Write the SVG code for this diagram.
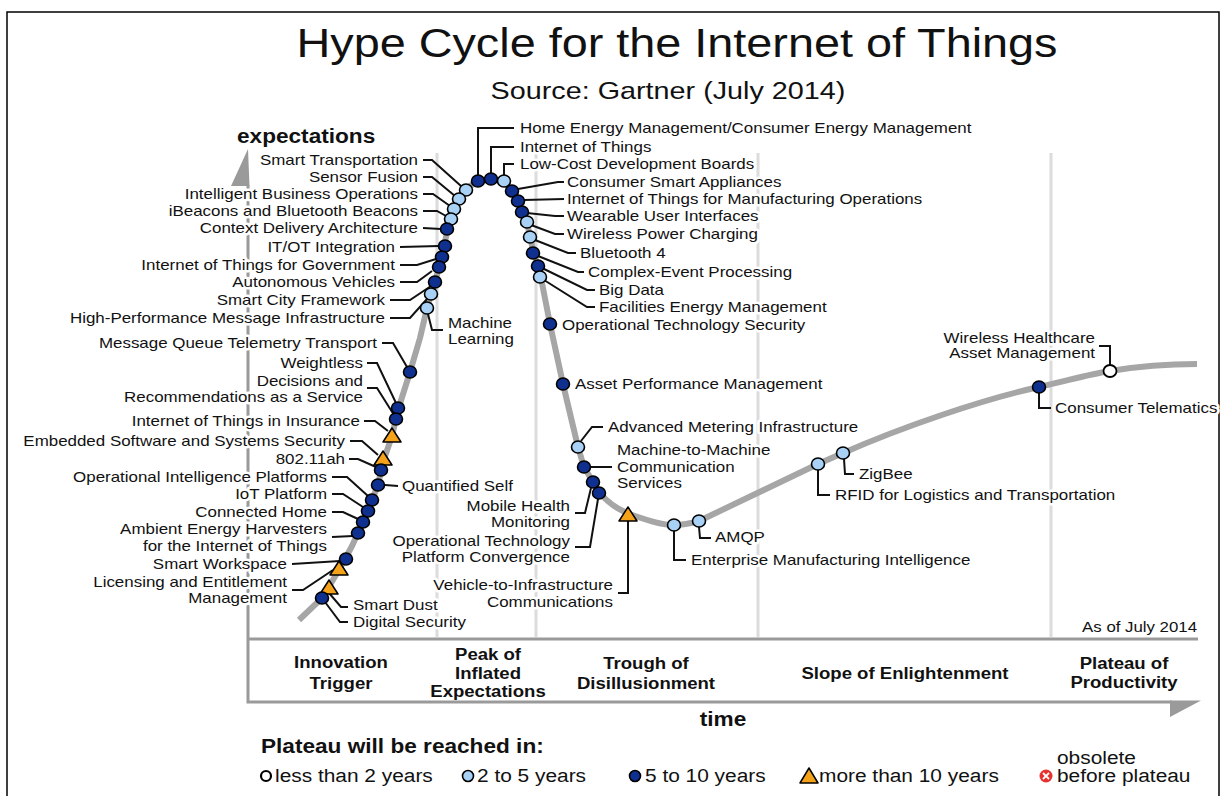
<svg xmlns="http://www.w3.org/2000/svg" xmlns:xlink="http://www.w3.org/1999/xlink" width="1224" height="796" viewBox="0 0 1224 796">
<style>
text{font-family:"Liberation Sans",Arial,Helvetica,sans-serif;fill:#111}
.lb{font-size:14.6px;stroke:#fff;stroke-width:5px;paint-order:stroke;stroke-linejoin:round}
.e{text-anchor:end}
.m{text-anchor:middle}
.b{font-weight:bold}
.ph{font-size:16px;font-weight:bold;text-anchor:middle}
.lg{font-size:18px}
.ld{fill:none;stroke:#111;stroke-width:2}
.div{stroke:#dcdcdc;stroke-width:3}
.ax{stroke:#9a9a9a;stroke-width:3;fill:none}
</style>
<defs>
<ellipse id="dk" rx="6.5" ry="6" fill="#10308f" stroke="#000" stroke-width="1.6"/>
<ellipse id="lt" rx="6.5" ry="6" fill="#a9d1f5" stroke="#000" stroke-width="1.6"/>
<ellipse id="wt" rx="6.5" ry="6" fill="#fff" stroke="#000" stroke-width="1.8"/>
<path id="tr" d="M0,-8 L9,6 L-9,6 Z" fill="#f5a21b" stroke="#000" stroke-width="1.5" stroke-linejoin="round"/>
</defs>
<rect x="0" y="0" width="1224" height="796" fill="#fff"/>
<rect x="7" y="12" width="1212" height="800" fill="none" stroke="#000" stroke-width="1.5"/>

<g id="titles">
<text class="m" font-size="40" transform="translate(677,57) scale(1.17,1)">Hype Cycle for the Internet of Things</text>
<text class="m" font-size="24.8" transform="translate(668,99) scale(1.16,1)">Source: Gartner (July 2014)</text>
</g>

<g id="frame">
<line class="div" x1="437" y1="153" x2="437" y2="637"/>
<line class="div" x1="536" y1="153" x2="536" y2="637"/>
<line class="div" x1="758" y1="153" x2="758" y2="637"/>
<line class="div" x1="1051" y1="153" x2="1051" y2="637"/>
<polyline class="ax" points="248,185 248,702 1172,702"/>
<line class="ax" x1="248" y1="639" x2="1198" y2="639"/>
<polygon points="248,149 249.5,186 231,186" fill="#9a9a9a"/>
<polygon points="1170,700.5 1201,700.5 1170,717" fill="#9a9a9a"/>
<text class="b" font-size="19.5" transform="translate(237,143) scale(1.16,1)">expectations</text>
<text class="b m" font-size="19.5" transform="translate(723,726) scale(1.16,1)">time</text>
<text class="e" font-size="14.5" transform="translate(1197,632) scale(1.16,1)">As of July 2014</text>
<text class="ph" transform="translate(341,668) scale(1.16,1)"><tspan x="0">Innovation</tspan><tspan x="0" dy="21">Trigger</tspan></text>
<text class="ph" transform="translate(488,660) scale(1.16,1)"><tspan x="0">Peak of</tspan><tspan x="0" dy="19">Inflated</tspan><tspan x="0" dy="18">Expectations</tspan></text>
<text class="ph" transform="translate(646,669) scale(1.16,1)"><tspan x="0">Trough of</tspan><tspan x="0" dy="20">Disillusionment</tspan></text>
<text class="ph" transform="translate(905,679) scale(1.16,1)">Slope of Enlightenment</text>
<text class="ph" transform="translate(1124,669) scale(1.16,1)"><tspan x="0">Plateau of</tspan><tspan x="0" dy="19.5">Productivity</tspan></text>
</g>

<path id="curve" d="M299,620 L322,598 L339,570 L352,546 L363,522 L372,500 L378,485 L383,462 L392,436 L398,410 L410,372 L420,338 L427,308 L435,282 L442,257 L447,232 L452,214 L459,199 L466,190 C472,183 482,179 491,179 C499,179 507,184 512,191 L518,201 L522,212 L527,222 L530,237 L534,254 L538,266 L541,278 L550,324 L563,384 L578,447 L584,467 L593,482 L600,493 C608,503 620,511 635,516 C650,521 662,525 674,525 C685,525 692,523 699,521 L818,464 L843,453 C900,428 980,400 1039,387 C1070,380 1090,374 1110,371 C1140,366 1170,364 1197,364" fill="none" stroke="#a6a6a6" stroke-width="6" stroke-linejoin="round"/>

<g id="connectors">
<polyline class="ld" points="423,160 432,160 461,186"/>
<polyline class="ld" points="423,177 432,177 455,196"/>
<polyline class="ld" points="423,194 433,194 450,206"/>
<polyline class="ld" points="423,211 437,211 446,216"/>
<polyline class="ld" points="423,228 441,229"/>
<polyline class="ld" points="400,247 439,246"/>
<polyline class="ld" points="400,265 417,265 436,259"/>
<polyline class="ld" points="400,282 417,282 432,271"/>
<polyline class="ld" points="390,300 410,300 431,286"/>
<polyline class="ld" points="390,318 410,318 427,299"/>
<polyline class="ld" points="382,343 393,343 407,367"/>
<polyline class="ld" points="367,363 377,363 396,403"/>
<polyline class="ld" points="367,388 377,388 394,415"/>
<polyline class="ld" points="364,421 375,421 388,431"/>
<polyline class="ld" points="350,441 362,441 378,455"/>
<polyline class="ld" points="349,459 358,459 376,467"/>
<polyline class="ld" points="385,485 398,486"/>
<polyline class="ld" points="332,477 347,477 368,496"/>
<polyline class="ld" points="332,494 343,494 363,507"/>
<polyline class="ld" points="332,512 343,512 358,519"/>
<polyline class="ld" points="332,537 353,536"/>
<polyline class="ld" points="292,564 340,561"/>
<polyline class="ld" points="292,590 303,590 333,570"/>
<polyline class="ld" points="329,593 341,607 348,607"/>
<polyline class="ld" points="325,602 340,622 348,622"/>
<polyline class="ld" points="478,175 478,128 514,128"/>
<polyline class="ld" points="491,173 491,147 514,147"/>
<polyline class="ld" points="504,175 504,164 514,164"/>
<polyline class="ld" points="518,189 558,182 564,182"/>
<polyline class="ld" points="524,200 564,199"/>
<polyline class="ld" points="527,213 555,216 564,216"/>
<polyline class="ld" points="531,225 555,234 564,234"/>
<polyline class="ld" points="535,240 568,253 576,253"/>
<polyline class="ld" points="538,256 578,272 584,272"/>
<polyline class="ld" points="542,268 587,290 595,290"/>
<polyline class="ld" points="544,280 587,307 595,307"/>
<polyline class="ld" points="428,314 432,330 443,330"/>
<polyline class="ld" points="581,441 592,427 603,427"/>
<polyline class="ld" points="591,467 612,467"/>
<polyline class="ld" points="591,488 585,513 575,513"/>
<polyline class="ld" points="598,499 590,547 575,547"/>
<polyline class="ld" points="628,521 628,593 618,593"/>
<polyline class="ld" points="674,531 674,560 686,560"/>
<polyline class="ld" points="699,527 700,538 711,538"/>
<polyline class="ld" points="818,470 818,495 830,495"/>
<polyline class="ld" points="844,459 845,474 854,474"/>
<polyline class="ld" points="1039,393 1039,408 1051,408"/>
<polyline class="ld" points="1110,365 1110,346 1099,346"/>
</g>

<g id="n-smart-transportation"><use href="#lt" x="466" y="190"/><text class="lb e" transform="translate(418,165) scale(1.16,1)">Smart Transportation</text></g>
<g id="n-sensor-fusion"><use href="#lt" x="459" y="199"/><text class="lb e" transform="translate(418,182) scale(1.16,1)">Sensor Fusion</text></g>
<g id="n-intelligent-business"><use href="#lt" x="454" y="209"/><text class="lb e" transform="translate(418,199) scale(1.16,1)">Intelligent Business Operations</text></g>
<g id="n-ibeacons"><use href="#lt" x="451" y="219"/><text class="lb e" transform="translate(418,216) scale(1.16,1)">iBeacons and Bluetooth Beacons</text></g>
<g id="n-context-delivery"><use href="#dk" x="447" y="229"/><text class="lb e" transform="translate(418,233) scale(1.16,1)">Context Delivery Architecture</text></g>
<g id="n-itot"><use href="#dk" x="445" y="246"/><text class="lb e" transform="translate(395,252) scale(1.16,1)">IT/OT Integration</text></g>
<g id="n-iot-government"><use href="#dk" x="442" y="257"/><text class="lb e" transform="translate(395,270) scale(1.16,1)">Internet of Things for Government</text></g>
<g id="n-autonomous"><use href="#dk" x="439" y="267"/><text class="lb e" transform="translate(395,287) scale(1.16,1)">Autonomous Vehicles</text></g>
<g id="n-smart-city"><use href="#dk" x="435" y="282"/><text class="lb e" transform="translate(385,305) scale(1.16,1)">Smart City Framework</text></g>
<g id="n-high-performance"><use href="#lt" x="431" y="294"/><text class="lb e" transform="translate(385,323) scale(1.16,1)">High-Performance Message Infrastructure</text></g>
<g id="n-machine-learning"><use href="#lt" x="427" y="308"/><text class="lb" transform="translate(448,328) scale(1.16,1)"><tspan x="0">Machine</tspan><tspan x="0" dy="16">Learning</tspan></text></g>
<g id="n-mqtt"><use href="#dk" x="410" y="372"/><text class="lb e" transform="translate(377,348) scale(1.16,1)">Message Queue Telemetry Transport</text></g>
<g id="n-weightless"><use href="#dk" x="398" y="408"/><text class="lb e" transform="translate(363,368) scale(1.16,1)">Weightless</text></g>
<g id="n-decisions"><use href="#dk" x="396" y="419"/><text class="lb e" transform="translate(363,386) scale(1.16,1)"><tspan x="0">Decisions and</tspan><tspan x="0" dy="16">Recommendations as a Service</tspan></text></g>
<g id="n-insurance"><use href="#tr" x="392" y="436"/><text class="lb e" transform="translate(360,426) scale(1.16,1)">Internet of Things in Insurance</text></g>
<g id="n-embedded"><use href="#tr" x="383" y="459"/><text class="lb e" transform="translate(345,446) scale(1.16,1)">Embedded Software and Systems Security</text></g>
<g id="n-80211ah"><use href="#dk" x="381" y="470"/><text class="lb e" transform="translate(345,464) scale(1.16,1)">802.11ah</text></g>
<g id="n-quantified-self"><use href="#dk" x="378" y="485"/><text class="lb" transform="translate(402,491) scale(1.16,1)">Quantified Self</text></g>
<g id="n-op-intelligence"><use href="#dk" x="372" y="500"/><text class="lb e" transform="translate(327,482) scale(1.16,1)">Operational Intelligence Platforms</text></g>
<g id="n-iot-platform"><use href="#dk" x="368" y="511"/><text class="lb e" transform="translate(327,499) scale(1.16,1)">IoT Platform</text></g>
<g id="n-connected-home"><use href="#dk" x="363" y="522"/><text class="lb e" transform="translate(327,517) scale(1.16,1)">Connected Home</text></g>
<g id="n-ambient"><use href="#dk" x="358" y="533"/><text class="lb e" transform="translate(327,534) scale(1.16,1)"><tspan x="0">Ambient Energy Harvesters</tspan><tspan x="0" dy="17">for the Internet of Things</tspan></text></g>
<g id="n-smart-workspace"><use href="#dk" x="346" y="559"/><text class="lb e" transform="translate(287,569) scale(1.16,1)">Smart Workspace</text></g>
<g id="n-licensing"><use href="#tr" x="339" y="569"/><text class="lb e" transform="translate(287,587) scale(1.16,1)"><tspan x="0">Licensing and Entitlement</tspan><tspan x="0" dy="16">Management</tspan></text></g>
<g id="n-smart-dust"><use href="#tr" x="329" y="588"/><text class="lb" transform="translate(353,610) scale(1.16,1)">Smart Dust</text></g>
<g id="n-digital-security"><use href="#dk" x="322" y="598"/><text class="lb" transform="translate(353,627) scale(1.16,1)">Digital Security</text></g>

<g id="n-home-energy"><use href="#dk" x="478" y="181"/><text class="lb" transform="translate(520,133) scale(1.16,1)">Home Energy Management/Consumer Energy Management</text></g>
<g id="n-iot"><use href="#dk" x="491" y="179"/><text class="lb" transform="translate(520,152) scale(1.16,1)">Internet of Things</text></g>
<g id="n-low-cost"><use href="#lt" x="504" y="181"/><text class="lb" transform="translate(520,169) scale(1.16,1)">Low-Cost Development Boards</text></g>
<g id="n-consumer-smart"><use href="#dk" x="512" y="191"/><text class="lb" transform="translate(567,187) scale(1.16,1)">Consumer Smart Appliances</text></g>
<g id="n-iot-manufacturing"><use href="#dk" x="518" y="201"/><text class="lb" transform="translate(567,204) scale(1.16,1)">Internet of Things for Manufacturing Operations</text></g>
<g id="n-wearable"><use href="#dk" x="522" y="212"/><text class="lb" transform="translate(567,221) scale(1.16,1)">Wearable User Interfaces</text></g>
<g id="n-wireless-power"><use href="#lt" x="527" y="222"/><text class="lb" transform="translate(567,239) scale(1.16,1)">Wireless Power Charging</text></g>
<g id="n-bluetooth"><use href="#lt" x="530" y="237"/><text class="lb" transform="translate(580,258) scale(1.16,1)">Bluetooth 4</text></g>
<g id="n-complex-event"><use href="#dk" x="533" y="253"/><text class="lb" transform="translate(588,277) scale(1.16,1)">Complex-Event Processing</text></g>
<g id="n-big-data"><use href="#dk" x="538" y="266"/><text class="lb" transform="translate(599,295) scale(1.16,1)">Big Data</text></g>
<g id="n-facilities"><use href="#lt" x="540" y="277"/><text class="lb" transform="translate(599,312) scale(1.16,1)">Facilities Energy Management</text></g>
<g id="n-ot-security"><use href="#dk" x="550" y="324"/><text class="lb" transform="translate(562,330) scale(1.16,1)">Operational Technology Security</text></g>
<g id="n-asset-performance"><use href="#dk" x="563" y="384"/><text class="lb" transform="translate(575,389) scale(1.16,1)">Asset Performance Management</text></g>
<g id="n-advanced-metering"><use href="#lt" x="578" y="447"/><text class="lb" transform="translate(608,432) scale(1.16,1)">Advanced Metering Infrastructure</text></g>
<g id="n-m2m"><use href="#dk" x="584" y="467"/><text class="lb" transform="translate(617,455) scale(1.16,1)"><tspan x="0">Machine-to-Machine</tspan><tspan x="0" dy="17">Communication</tspan><tspan x="0" dy="16">Services</tspan></text></g>
<g id="n-mobile-health"><use href="#dk" x="593" y="482"/><text class="lb e" transform="translate(570,511) scale(1.16,1)"><tspan x="0">Mobile Health</tspan><tspan x="0" dy="16">Monitoring</tspan></text></g>
<g id="n-ot-platform"><use href="#dk" x="599" y="493"/><text class="lb e" transform="translate(570,546) scale(1.16,1)"><tspan x="0">Operational Technology</tspan><tspan x="0" dy="16">Platform Convergence</tspan></text></g>
<g id="n-v2i"><use href="#tr" x="628" y="515"/><text class="lb e" transform="translate(613,590) scale(1.16,1)"><tspan x="0">Vehicle-to-Infrastructure</tspan><tspan x="0" dy="17">Communications</tspan></text></g>
<g id="n-emi"><use href="#lt" x="674" y="525"/><text class="lb" transform="translate(691,565) scale(1.16,1)">Enterprise Manufacturing Intelligence</text></g>
<g id="n-amqp"><use href="#lt" x="699" y="521"/><text class="lb" transform="translate(715,542) scale(1.16,1)">AMQP</text></g>
<g id="n-rfid"><use href="#lt" x="818" y="464"/><text class="lb" transform="translate(835,500) scale(1.16,1)">RFID for Logistics and Transportation</text></g>
<g id="n-zigbee"><use href="#lt" x="843" y="453"/><text class="lb" transform="translate(859,479) scale(1.16,1)">ZigBee</text></g>
<g id="n-consumer-telematics"><use href="#dk" x="1039" y="387"/><text class="lb" transform="translate(1055,413) scale(1.16,1)">Consumer Telematics</text></g>
<g id="n-wireless-healthcare"><use href="#wt" x="1110" y="371"/><text class="lb e" transform="translate(1095,343) scale(1.16,1)"><tspan x="0">Wireless Healthcare</tspan><tspan x="0" dy="15">Asset Management</tspan></text></g>

<g id="legend">
<text class="b" font-size="19.5" transform="translate(261,753) scale(1.16,1)">Plateau will be reached in:</text>
<circle cx="266" cy="776" r="5" fill="#fff" stroke="#000" stroke-width="2.2"/>
<text class="lg" transform="translate(275,782) scale(1.16,1)">less than 2 years</text>
<circle cx="468" cy="776" r="5.5" fill="#a9d1f5" stroke="#000" stroke-width="1.6"/>
<text class="lg" transform="translate(477,782) scale(1.16,1)">2 to 5 years</text>
<circle cx="635" cy="776" r="5.5" fill="#10308f" stroke="#000" stroke-width="1.6"/>
<text class="lg" transform="translate(645,782) scale(1.16,1)">5 to 10 years</text>
<path d="M809,768 L818,783 L800,783 Z" fill="#f5a21b" stroke="#000" stroke-width="1.5" stroke-linejoin="round"/>
<text class="lg" transform="translate(819,782) scale(1.16,1)">more than 10 years</text>
<circle cx="1046" cy="776" r="6.5" fill="#e8302c"/>
<path d="M1043,773 L1049,779 M1049,773 L1043,779" stroke="#fff" stroke-width="1.8"/>
<text class="lg" transform="translate(1057,764) scale(1.16,1)">obsolete</text>
<text class="lg" transform="translate(1057,782) scale(1.16,1)">before plateau</text>
</g>
</svg>
